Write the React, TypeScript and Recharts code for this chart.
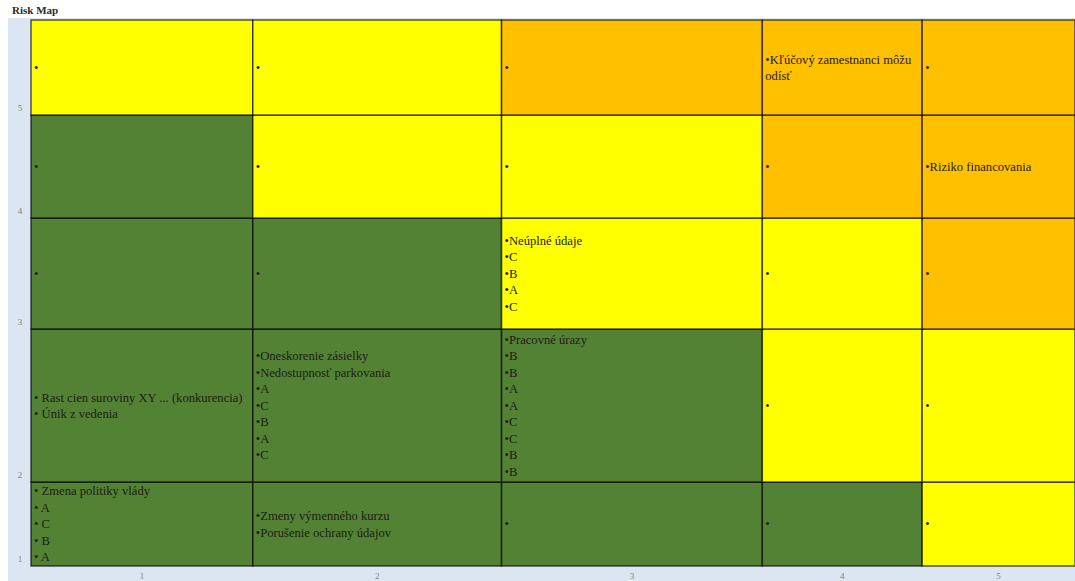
import { ComposedChart, XAxis, YAxis, ReferenceArea, Scatter } from "recharts";

const COL_LABELS = ["1", "2", "3", "4", "5"];
const ROW_LABELS = ["1", "2", "3", "4", "5"]; // bottom to top

// relative size of each column / row in the map
const COL_WIDTHS = [222, 249, 261, 160, 153];
const ROW_HEIGHTS = [84, 153, 111, 103, 95]; // row 1 (bottom) .. row 5 (top)

// 1 = low (green), 2 = medium (yellow), 3 = high (orange)
const ROW1_LEVELS = [1, 1, 1, 1, 2];
const ROW2_LEVELS = [1, 1, 1, 2, 2];
const ROW3_LEVELS = [1, 1, 2, 2, 3];
const ROW4_LEVELS = [1, 2, 2, 3, 3];
const ROW5_LEVELS = [2, 2, 3, 3, 3];

const ROW1_TEXT = [
  ["• Zmena politiky vlády", "• A", "• C", "• B", "• A"],
  ["•Zmeny výmenného kurzu", "•Porušenie ochrany údajov"],
  ["•"],
  ["•"],
  ["•"],
];
const ROW2_TEXT = [
  ["• Rast cien suroviny XY ... (konkurencia)", "• Únik z vedenia"],
  ["•Oneskorenie zásielky", "•Nedostupnosť parkovania", "•A", "•C", "•B", "•A", "•C"],
  ["•Pracovné úrazy", "•B", "•B", "•A", "•A", "•C", "•C", "•B", "•B"],
  ["•"],
  ["•"],
];
const ROW3_TEXT = [["•"], ["•"], ["•Neúplné údaje", "•C", "•B", "•A", "•C"], ["•"], ["•"]];
const ROW4_TEXT = [["•"], ["•"], ["•"], ["•"], ["•Riziko financovania"]];
const ROW5_TEXT = [["•"], ["•"], ["•"], ["•Kľúčový zamestnanci môžu", "odísť"], ["•"]];

const LEVEL_COLORS: Record<number, string> = {
  1: "#548235",
  2: "#ffff00",
  3: "#ffc000",
};

const LEVELS = [ROW1_LEVELS, ROW2_LEVELS, ROW3_LEVELS, ROW4_LEVELS, ROW5_LEVELS];
const TEXTS = [ROW1_TEXT, ROW2_TEXT, ROW3_TEXT, ROW4_TEXT, ROW5_TEXT];

const cumulative = (arr: number[]) => {
  const out = [0];
  arr.forEach((v) => out.push(out[out.length - 1] + v));
  return out;
};
const colEdges = cumulative(COL_WIDTHS);
const rowEdges = cumulative(ROW_HEIGHTS);
const colCenters = COL_WIDTHS.map((w, i) => colEdges[i] + w / 2);
const rowBottoms = rowEdges.slice(0, ROW_HEIGHTS.length);

// one point per cell, used so the chart has data to lay out its axes
const cellPoints = LEVELS.flatMap((row, r) =>
  row.map((level, c) => ({ x: colCenters[c], y: rowEdges[r] + ROW_HEIGHTS[r] / 2, level }))
);

const SERIF = '"Liberation Serif", "Times New Roman", serif';

function CellLabel({ viewBox, lines }: any) {
  const { x, y, height } = viewBox;
  const lh = 16.5;
  const start = y + height / 2 - ((lines.length - 1) * lh) / 2;
  return (
    <text fontFamily={SERIF} fontSize={12.6} fill="#1c1c14">
      {lines.map((l: string, i: number) => (
        <tspan key={i} x={x + 3} y={start + i * lh} dy="0.35em">
          {l}
        </tspan>
      ))}
    </text>
  );
}

const XTick = ({ x, y, payload }: any) => {
  const idx = colCenters.indexOf(payload.value);
  return (
    <text x={x} y={y + 5} textAnchor="middle" fontFamily={SERIF} fontSize={9} fill="#7f7f7f">
      {COL_LABELS[idx]}
    </text>
  );
};

const YTick = ({ y, payload }: any) => {
  const idx = rowBottoms.indexOf(payload.value);
  return (
    <text x={20} y={y - 4} textAnchor="middle" fontFamily={SERIF} fontSize={9} fill="#7f7f7f">
      {ROW_LABELS[idx]}
    </text>
  );
};

export default function App() {
  return (
    <div style={{ position: "absolute", left: 0, top: 0, width: 1075, height: 581, background: "#fff" }}>
      <div style={{ position: "absolute", left: 8, top: 18, width: 1067, height: 563, background: "#dce6f2" }} />
      <div
        style={{
          position: "absolute",
          left: 12,
          top: 5,
          fontFamily: SERIF,
          fontWeight: "bold",
          fontSize: 11,
          lineHeight: "11px",
          color: "#2a2a2a",
        }}
      >
        Risk Map
      </div>
      <div style={{ position: "absolute", left: 0, top: 0 }}>
        <ComposedChart
          width={1075}
          height={581}
          data={cellPoints}
          margin={{ top: 20, right: 0, left: 0, bottom: 0 }}
        >
          <XAxis
            type="number"
            dataKey="x"
            domain={[0, colEdges[colEdges.length - 1]]}
            ticks={colCenters}
            tick={<XTick />}
            axisLine={false}
            tickLine={false}
            height={15}
            interval={0}
          />
          <YAxis
            type="number"
            dataKey="y"
            domain={[0, rowEdges[rowEdges.length - 1]]}
            ticks={rowBottoms}
            tick={<YTick />}
            axisLine={false}
            tickLine={false}
            width={31}
            interval={0}
          />
          {LEVELS.map((row, r) =>
            row.map((level, c) => (
              <ReferenceArea
                key={`${r}-${c}`}
                x1={colEdges[c]}
                x2={colEdges[c + 1]}
                y1={rowEdges[r]}
                y2={rowEdges[r + 1]}
                fill={LEVEL_COLORS[level]}
                fillOpacity={1}
                stroke="#000"
                strokeOpacity={0.65}
                strokeWidth={1.5}
                ifOverflow="visible"
                label={(p: any) => <CellLabel viewBox={p.viewBox} lines={TEXTS[r][c]} />}
              />
            ))
          )}
          <Scatter dataKey="y" fill="none" shape={() => <g />} isAnimationActive={false} />
        </ComposedChart>
      </div>
    </div>
  );
}
